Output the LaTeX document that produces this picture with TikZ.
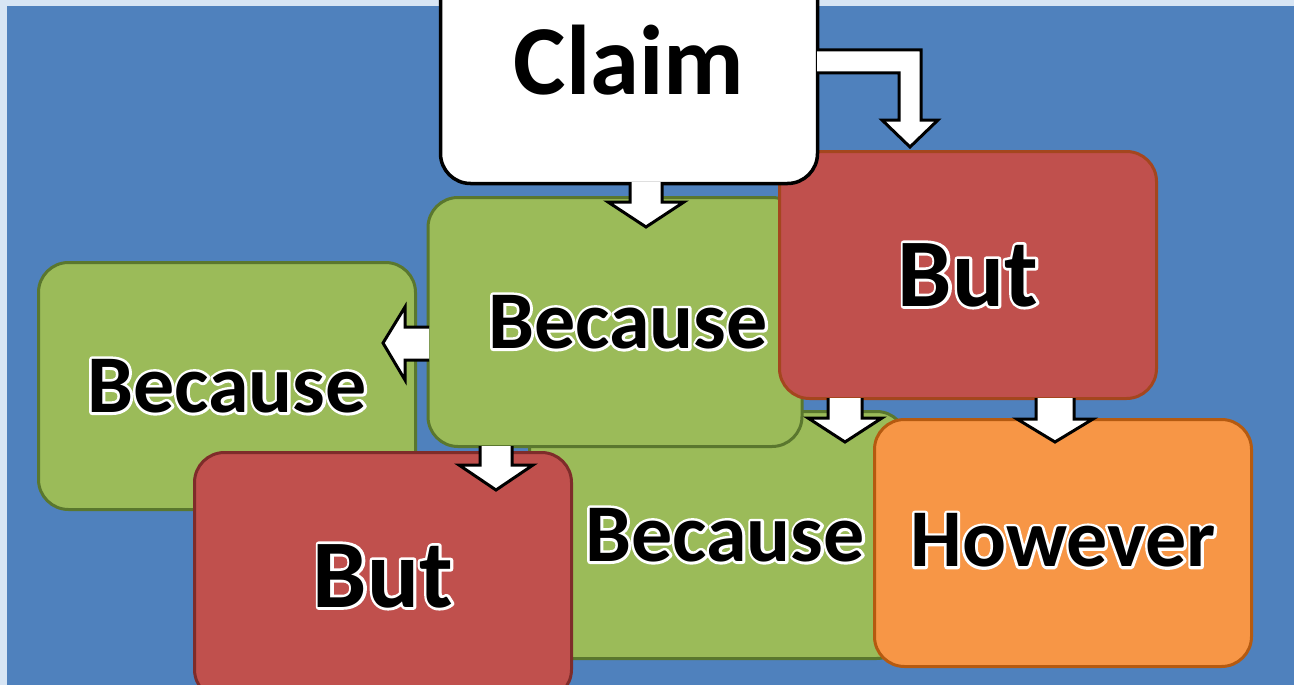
\documentclass[tikz,border=0pt]{standalone}
\usepackage{fontspec}
\setmainfont{Carlito}
\definecolor{bgblue}{HTML}{4F81BD}
\definecolor{bgedge}{HTML}{D7E5F4}
\definecolor{grfill}{HTML}{9BBB59}
\definecolor{grline}{HTML}{5A772E}
\definecolor{rdfill}{HTML}{C0504D}
\definecolor{rdline}{HTML}{A4461E}
\definecolor{rdline2}{HTML}{7E2C2A}
\definecolor{orfill}{HTML}{F79646}
\definecolor{orline}{HTML}{B55A10}
\newcommand\outl[1]{\rlap{\special{pdf:literal direct q 1 j 1 J 5.5 w 1 1 1 RG 1 Tr}#1\special{pdf:literal direct Q}}#1}
\newcommand\darr[6]{%
  \fill[white] ({#1-#4},#2) -- ({#1+#4},#2) -- ({#1+#4},{#3-#6}) -- ({#1+#5},{#3-#6}) -- (#1,#3) -- ({#1-#5},{#3-#6}) -- ({#1-#4},{#3-#6}) -- cycle;
  \draw[arrline] ({#1+#4},#2) -- ({#1+#4},{#3-#6}) -- ({#1+#5},{#3-#6}) -- (#1,#3) -- ({#1-#5},{#3-#6}) -- ({#1-#4},{#3-#6}) -- ({#1-#4},#2);}
\begin{document}
\begin{tikzpicture}[x=1pt,y=-1pt,
  box/.style={rounded corners=30pt, minimum width=377pt, minimum height=247pt, inner sep=0pt, line width=3pt,
    font=\fontsize{82}{92}\selectfont\bfseries},
  bigtxt/.style={font=\fontsize{97}{110}\selectfont\bfseries},
  arrline/.style={line width=3pt, black, line join=miter}]
\useasboundingbox (0,0) rectangle (1294,685);
\fill[bgedge] (0,0) rectangle (1294,685);
\fill[bgblue] (7,6) rectangle (1294,685);
% boxes, back to front
\node[box, fill=grfill, draw=grline] (because3) at (718,535) {\hspace*{14pt}\outl{Because}};
\node[box, fill=orfill, draw=orline] (however) at (1063,543) {\raisebox{6pt}{\outl{However}}};
\node[box, fill=grfill, draw=grline] (because2) at (227,386) {\outl{Because}};
\node[box, fill=grfill, draw=grline, minimum width=374pt, minimum height=249pt] (because1) at (615,322) {\hspace*{26pt}\outl{Because}};
\node[box, bigtxt, fill=rdfill, draw=rdline2] (but2) at (383,576) {\outl{But}};
\node[box, bigtxt, fill=rdfill, draw=rdline] (but1) at (968,275) {\outl{But}};
\node[box, font=\fontsize{99}{110}\selectfont\bfseries, fill=white, draw=black, line width=3.5pt] (claim) at (629,60) {\outl{Claim}};
% arrows
\darr{646}{182}{227}{16}{38}{25}
\darr{845}{398}{442}{17}{37}{24}
\darr{1055}{398}{442}{19}{38}{23}
\darr{496}{446}{490}{16}{37}{25}
% left arrow
\fill[white] (429,327) -- (405,327) -- (405,307) -- (383,343) -- (405,380) -- (405,360) -- (429,360) -- cycle;
\draw[arrline] (429,327) -- (405,327) -- (405,307) -- (383,343) -- (405,380) -- (405,360) -- (429,360);
% bent arrow claim -> but
\fill[white] (817,50) -- (921,50) -- (921,120) -- (938,120) -- (910,147) -- (882,120) -- (899,120) -- (899,73) -- (817,73) -- cycle;
\draw[arrline] (817,50) -- (921,50) -- (921,120) -- (938,120) -- (910,147) -- (882,120) -- (899,120) -- (899,73) -- (817,73);
\end{tikzpicture}
\end{document}
